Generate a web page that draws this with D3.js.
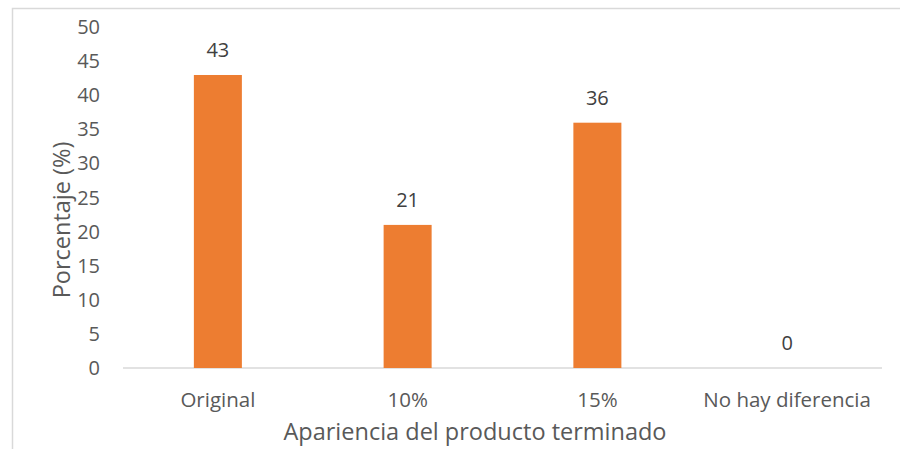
<!DOCTYPE html>
<html><head><meta charset="utf-8">
<script src="https://cdn.jsdelivr.net/npm/d3@7"></script>
<style>body{margin:0;background:#fff}svg{display:block}</style>
</head><body>
<script>
const categories = ["Original", "10%", "15%", "No hay diferencia"];
const values = [43, 21, 36, 0];
const yTicks = [0, 5, 10, 15, 20, 25, 30, 35, 40, 45, 50];
const xTitle = "Apariencia del producto terminado";
const yTitle = "Porcentaje (%)";

const W = 900, H = 449;
const font = "'Open Sans', sans-serif";
const svg = d3.select("body").append("svg").attr("width", W).attr("height", H);
svg.append("rect").attr("x", 12.5).attr("y", 8.5).attr("width", 900).attr("height", 460)
  .attr("fill", "#fff").attr("stroke", "#d9d9d9").attr("stroke-width", 1.5);

const pL = 123, pR = 882, pT = 27.3, pB = 368;
const x = d3.scaleBand().domain(categories).range([pL, pR]).paddingInner(0.747).paddingOuter(0.3735);
const y = d3.scaleLinear().domain([0, 50]).range([pB, pT]);

const yAxis = svg.append("g").attr("transform", `translate(${pL},0)`)
  .call(d3.axisLeft(y).tickValues(yTicks).tickSize(0).tickPadding(23));
yAxis.select(".domain").remove();
yAxis.selectAll("text").attr("font-family", font).attr("font-size", 20).attr("fill", "#595959");

svg.append("line").attr("x1", pL).attr("x2", pR).attr("y1", pB).attr("y2", pB)
  .attr("stroke", "#d9d9d9").attr("stroke-width", 1.5);

svg.selectAll("rect.bar").data(values).enter().append("rect").attr("class", "bar")
  .attr("x", (d, i) => x(categories[i])).attr("width", x.bandwidth())
  .attr("y", d => y(d)).attr("height", d => pB - y(d)).attr("fill", "#ED7D31");

svg.selectAll("text.lbl").data(values).enter().append("text").attr("class", "lbl")
  .attr("x", (d, i) => x(categories[i]) + x.bandwidth() / 2).attr("y", d => y(d) - 18)
  .attr("text-anchor", "middle").attr("font-family", font).attr("font-size", 20).attr("fill", "#404040")
  .text(d => d);

const xAxis = svg.append("g").attr("transform", `translate(0,${pB})`)
  .call(d3.axisBottom(x).tickSize(0).tickPadding(24));
xAxis.select(".domain").remove();
xAxis.selectAll("text").attr("font-family", font).attr("font-size", 20.5).attr("fill", "#595959");

svg.append("text").attr("x", 475).attr("y", 440).attr("text-anchor", "middle")
  .attr("font-family", font).attr("font-size", 23.5).attr("fill", "#595959").text(xTitle);
svg.append("text").attr("transform", `translate(70,220) rotate(-90)`).attr("text-anchor", "middle")
  .attr("font-family", font).attr("font-size", 23.5).attr("fill", "#595959").text(yTitle);
</script>
</body></html>
